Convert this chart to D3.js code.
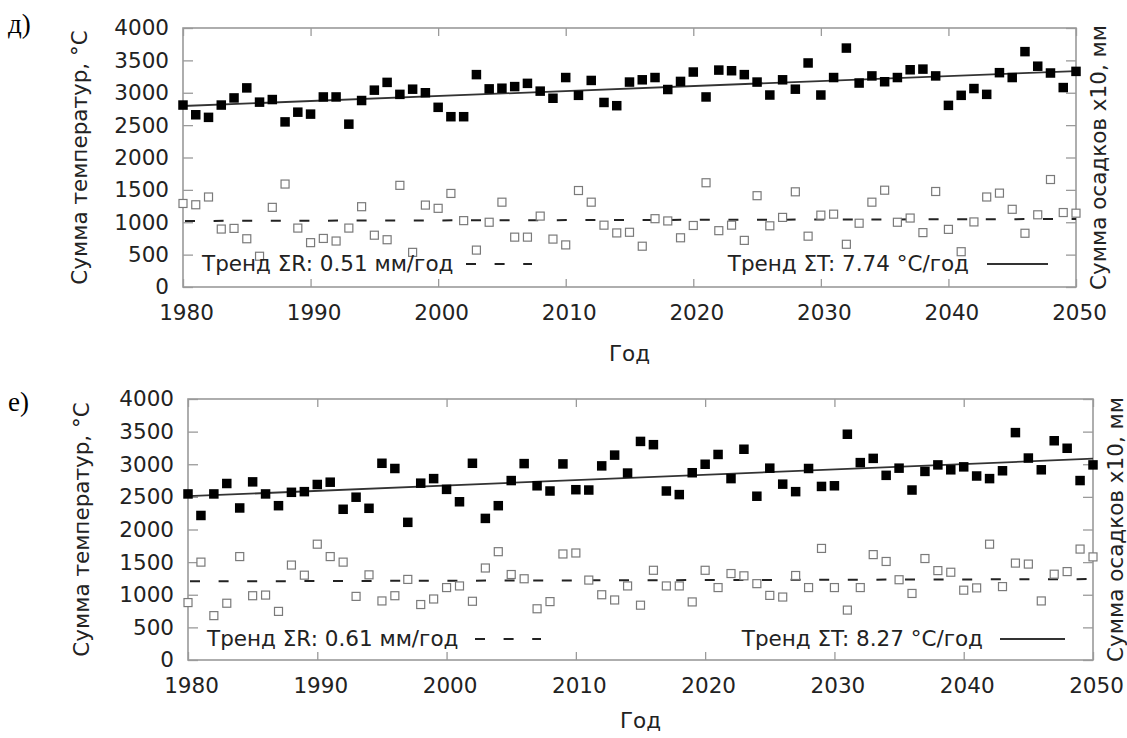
<!DOCTYPE html>
<html><head><meta charset="utf-8">
<script src="https://cdn.jsdelivr.net/npm/d3@7"></script>
<style>body{margin:0;background:#fff} svg{display:block}</style>
</head><body>
<svg id="c" width="1127" height="738"></svg>
<script>
// ---------- data ----------
const years = d3.range(1980, 2051);
const xTicks = [1980, 1990, 2000, 2010, 2020, 2030, 2040, 2050];
const yTicks = [0, 500, 1000, 1500, 2000, 2500, 3000, 3500, 4000];

// panel д) — sum of temperatures (°C) and precipitation x10 (mm)
const sumT_d = [2810,2660,2620,2810,2920,3075,2855,2895,2550,2700,
                2670,2935,2935,2515,2880,3040,3160,2975,3055,3000,
                2775,2630,2630,3280,3060,3070,3095,3145,3025,2915,
                3235,2960,3190,2850,2800,3165,3200,3235,3050,3175,
                3320,2935,3350,3340,3280,3165,2965,3200,3055,3460,
                2965,3235,3690,3150,3260,3170,3235,3355,3365,3260,
                2805,2960,3065,2975,3310,3235,3635,3410,3305,3080,3330];
const sumR_d = [1290,1270,1390,895,905,745,475,1230,1590,910,
                685,750,710,910,1240,800,730,1570,535,1265,
                1215,1445,1025,570,1000,1310,770,770,1095,740,
                650,1490,1310,955,835,845,630,1055,1020,760,
                950,1610,870,955,720,1410,945,1075,1470,785,
                1110,1125,660,985,1310,1495,1000,1065,840,1475,
                890,545,1005,1390,1450,1200,830,1115,1660,1150,1140];
const trendT_d = [2795, 3335];   // values at 1980 and 2050
const trendR_d = [1020, 1050];

// panel е)
const sumT_e = [2545,2215,2545,2705,2330,2730,2545,2365,2570,2580,
                2690,2725,2310,2495,2325,3015,2935,2110,2710,2780,
                2615,2425,3015,2170,2365,2750,3010,2670,2590,3005,
                2610,2605,2975,3140,2865,3350,3300,2590,2535,2870,
                3000,3150,2780,3230,2510,2940,2695,2580,2935,2660,
                2670,3460,3025,3090,2830,2940,2605,2890,2990,2915,
                2960,2820,2780,2900,3485,3095,2915,3360,3245,2750,2990];
const sumR_e = [880,1500,680,870,1585,985,995,745,1455,1300,
                1775,1585,1500,975,1305,905,985,1235,850,935,
                1110,1135,900,1410,1660,1310,1245,785,895,1625,
                1640,1225,1000,920,1135,840,1375,1135,1135,890,
                1375,1110,1325,1290,1170,990,965,1295,1110,1710,
                1110,765,1110,1615,1510,1230,1020,1555,1370,1345,
                1070,1105,1775,1125,1485,1470,905,1315,1355,1700,1580];
const trendT_e = [2510, 3085];
const trendR_e = [1205, 1240];

const labels_d = {tag: "д)", legR: "Тренд ΣR: 0.51 мм/год", legT: "Тренд ΣT: 7.74 °C/год"};
const labels_e = {tag: "е)", legR: "Тренд ΣR: 0.61 мм/год", legT: "Тренд ΣT: 8.27 °C/год"};
const yLabelLeft = "Сумма температур, °C";
const yLabelRight = "Сумма осадков x10, мм";
const xLabel = "Год";

// ---------- drawing ----------
const svg = d3.select("#c");
const FONT = "'DejaVu Sans', sans-serif";
const FS = 21.5;
const TXT = "#222";
const FRAME = "#9a9a9a";

function panel(T, R, trT, trR, lab, L) {
  const x = d3.scaleLinear().domain([1980, 2050]).range([L.l, L.r]);
  const y = d3.scaleLinear().domain([0, 4000]).range([L.b, L.t]);
  const g = svg.append("g");

  // axes
  const styleAxis = sel => {
    sel.select(".domain").remove();
    sel.selectAll(".tick line").attr("stroke", FRAME).attr("stroke-width", 1.3);
    sel.selectAll(".tick text").attr("font-family", FONT).attr("font-size", FS).attr("fill", TXT);
  };
  g.append("g").attr("transform", `translate(${L.l},0)`)
    .call(d3.axisLeft(y).tickValues(yTicks).tickSize(-10).tickPadding(14).tickFormat(d3.format("d")))
    .call(styleAxis);
  g.append("g").attr("transform", `translate(${L.r},0)`)
    .call(d3.axisRight(y).tickValues(yTicks).tickSize(-10).tickFormat(""))
    .call(styleAxis);
  g.append("g").attr("transform", `translate(0,${L.t})`)
    .call(d3.axisTop(x).tickValues(xTicks).tickSize(-8).tickFormat(""))
    .call(styleAxis);
  const xb = g.append("g").attr("transform", `translate(0,${L.b})`)
    .call(d3.axisBottom(x).tickValues(xTicks).tickSize(-8).tickPadding(18).tickFormat(d3.format("d")))
    .call(styleAxis);
  xb.selectAll(".tick text").attr("dx", 3);

  g.append("rect").attr("x", L.l).attr("y", L.t)
    .attr("width", L.r - L.l).attr("height", L.b - L.t)
    .attr("fill", "none").attr("stroke", FRAME).attr("stroke-width", 1.6);

  // trend lines
  g.append("line").attr("x1", x(1980)).attr("x2", x(2050))
    .attr("y1", y(trR[0])).attr("y2", y(trR[1]))
    .attr("stroke", "#222").attr("stroke-width", 2)
    .attr("stroke-dasharray", "10,18.6").attr("stroke-dashoffset", -2);
  g.append("line").attr("x1", x(1980)).attr("x2", x(2050))
    .attr("y1", y(trT[0])).attr("y2", y(trT[1]))
    .attr("stroke", "#333").attr("stroke-width", 1.8);

  // precipitation (open squares)
  const so = 8;
  g.append("g").selectAll("rect").data(years.map((yr, i) => [yr, R[i]])).join("rect")
    .attr("x", d => x(d[0]) - so / 2).attr("y", d => y(d[1]) - so / 2)
    .attr("width", so).attr("height", so)
    .attr("fill", "#fff").attr("stroke", "#7a7a7a").attr("stroke-width", 1.2);
  // temperature (filled squares)
  const sf = 9.5;
  g.append("g").selectAll("rect").data(years.map((yr, i) => [yr, T[i]])).join("rect")
    .attr("x", d => x(d[0]) - sf / 2).attr("y", d => y(d[1]) - sf / 2)
    .attr("width", sf).attr("height", sf).attr("fill", "#000");

  // legends
  g.append("text").attr("x", L.legRx).attr("y", L.legY)
    .attr("font-family", FONT).attr("font-size", FS).attr("fill", TXT).text(lab.legR);
  g.append("line").attr("x1", L.legRl[0]).attr("x2", L.legRl[1])
    .attr("y1", L.legY - 7).attr("y2", L.legY - 7)
    .attr("stroke", "#222").attr("stroke-width", 2).attr("stroke-dasharray", "10,18.6");
  g.append("text").attr("x", L.legTx).attr("y", L.legY).attr("text-anchor", "end")
    .attr("font-family", FONT).attr("font-size", FS).attr("fill", TXT).text(lab.legT);
  g.append("line").attr("x1", L.legTl[0]).attr("x2", L.legTl[1])
    .attr("y1", L.legY - 7).attr("y2", L.legY - 7)
    .attr("stroke", "#333").attr("stroke-width", 1.8);

  // axis titles
  const cy = (L.t + L.b) / 2;
  g.append("text").attr("transform", `translate(${L.yl},${cy}) rotate(-90)`)
    .attr("text-anchor", "middle").attr("dy", "0.35em")
    .attr("font-family", FONT).attr("font-size", FS).attr("fill", TXT).text(yLabelLeft);
  g.append("text").attr("transform", `translate(${L.yr},${cy}) rotate(-90)`)
    .attr("text-anchor", "middle").attr("dy", "0.35em")
    .attr("font-family", FONT).attr("font-size", FS).attr("fill", TXT).text(yLabelRight);
  g.append("text").attr("x", (L.l + L.r) / 2).attr("y", L.xlY).attr("text-anchor", "middle")
    .attr("font-family", FONT).attr("font-size", FS).attr("fill", TXT).text(xLabel);

  // panel tag
  g.append("text").attr("x", 8).attr("y", L.tagY)
    .attr("font-family", "'Liberation Serif', 'Times New Roman', serif").attr("font-size", 27)
    .attr("fill", "#000").text(lab.tag);
}

panel(sumT_d, sumR_d, trendT_d, trendR_d, labels_d,
  {l: 183, r: 1076, t: 28, b: 287, legY: 271, legRx: 202, legRl: [466, 532],
   legTx: 969, legTl: [987, 1048], yl: 79, yr: 1098, xlY: 361, tagY: 33});
panel(sumT_e, sumR_e, trendT_e, trendR_e, labels_e,
  {l: 188, r: 1093, t: 399, b: 660, legY: 646, legRx: 207, legRl: [475, 541],
   legTx: 983, legTl: [1000, 1065], yl: 81, yr: 1115, xlY: 728, tagY: 411});
</script>
</body></html>
